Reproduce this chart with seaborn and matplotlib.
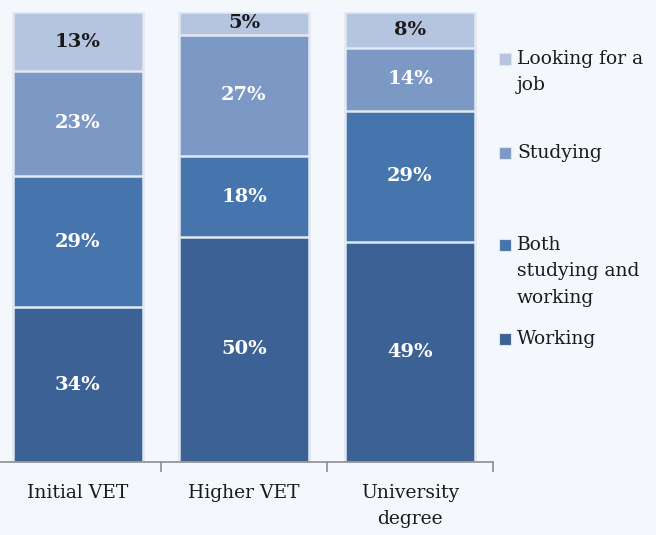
import numpy as np
import pandas as pd
import matplotlib.pyplot as plt
import seaborn as sns

# Data
categories = ["Initial VET", "Higher VET", "University\ndegree"]
series = ["Working", "Both\nstudying and\nworking", "Studying", "Looking for a\njob"]
working = [34, 50, 49]
both = [29, 18, 29]
studying = [23, 27, 14]
looking = [13, 5, 8]

colors = ["#3c6194", "#4675ad", "#7c99c6", "#b5c4df"]
label_colors = ["white", "white", "white", "#1a1a1a"]

bg = "#f4f8fc"
sns.set_style("white")
plt.rcParams["font.family"] = ["DejaVu Serif"]

fig = plt.figure(figsize=(6.56, 5.35), dpi=100, facecolor=bg)
ax = fig.add_axes([-5 / 656, 73 / 535, 498 / 656, 450 / 535])
ax.set_facecolor(bg)

values = np.array([working, both, studying, looking], dtype=float)
# 100% stacked: normalise each column
share = values / values.sum(axis=0) * 100
cum = share.cumsum(axis=0)

# draw tallest first so lower segments sit on top
for i in range(len(series) - 1, -1, -1):
    df = pd.DataFrame({"cat": categories, "val": cum[i]})
    sns.barplot(data=df, x="cat", y="val", color=colors[i], width=0.785,
                saturation=1, edgecolor="#e3e9f2", linewidth=1.8, ax=ax)

# value labels
for i in range(len(series)):
    for j in range(len(categories)):
        mid = cum[i, j] - share[i, j] / 2
        ax.text(j, mid, f"{values[i, j]:.0f}%", ha="center", va="center",
                color=label_colors[i], fontsize=14, fontweight="bold")

ax.set_xlim(-0.5, 2.5)
ax.set_ylim(0, 100)
ax.set_xlabel("")
ax.set_ylabel("")
ax.set_yticks([])
ax.set_xticks([0.5, 1.5, 2.5])
ax.set_xticklabels([])
ax.tick_params(axis="x", bottom=True, length=7, color="#8c8c8c", width=1.2,
               direction="out")
for j, c in enumerate(categories):
    ax.text(j, -4.8, c, ha="center", va="top", fontsize=13.5,
            color="#1a1a1a", linespacing=1.6)
for s in ["top", "right", "left"]:
    ax.spines[s].set_visible(False)
ax.spines["bottom"].set_color("#8c8c8c")
ax.spines["bottom"].set_linewidth(1.2)

# legend
leg_y = [59, 153, 245, 339]
for k, idx in enumerate([3, 2, 1, 0]):
    y = 1 - leg_y[k] / 535
    fig.patches.append(plt.Rectangle((499 / 656, y - 6 / 535), 12 / 656, 12 / 535,
                                     transform=fig.transFigure, facecolor=colors[idx],
                                     edgecolor="#dfe5ee", linewidth=0.8))
    fig.text(517 / 656, y + 9 / 535, series[idx], ha="left", va="top",
             fontsize=13.5, color="#1a1a1a", linespacing=1.6)

fig.savefig("out.png", dpi=100, facecolor=bg)
